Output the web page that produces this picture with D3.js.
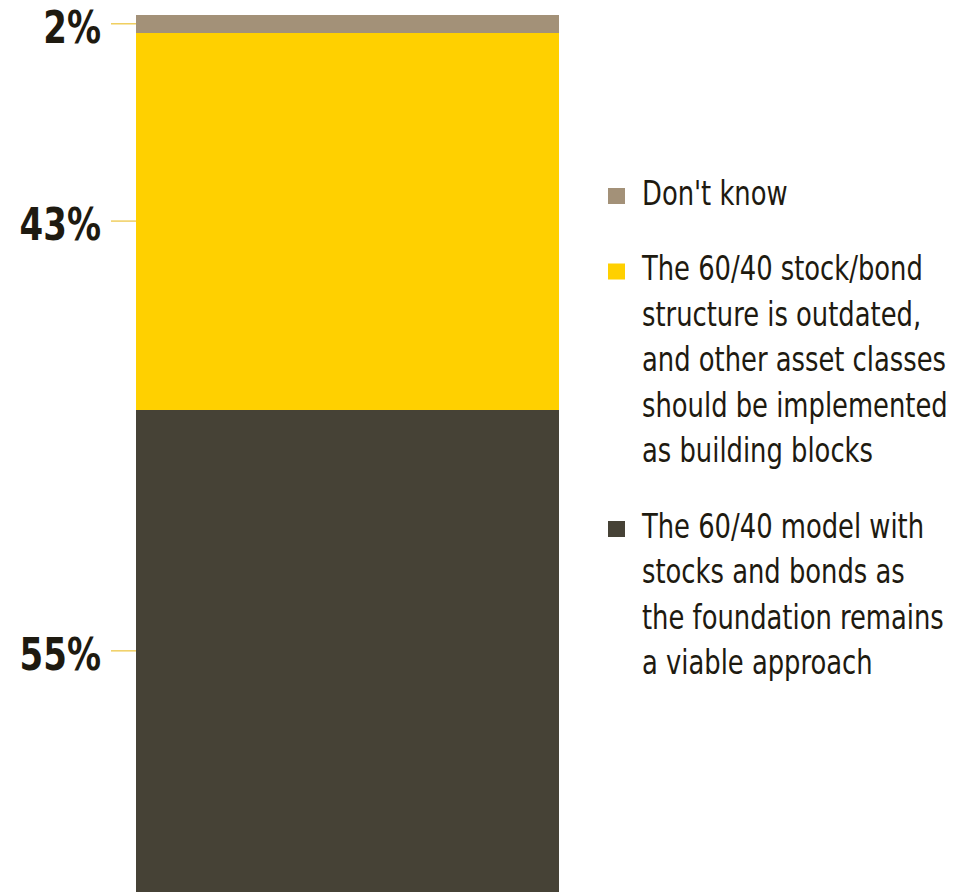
<!DOCTYPE html>
<html>
<head>
<meta charset="utf-8">
<script src="https://cdn.jsdelivr.net/npm/d3@7/dist/d3.min.js"></script>
<style>
  body { margin: 0; background: #fff; }
  .pct { font-family: "DejaVu Sans", sans-serif; font-stretch: condensed; font-weight: bold; font-size: 45px; fill: #1e1a10; }
  .legend text { font-family: "DejaVu Sans", sans-serif; font-stretch: condensed; font-size: 33px; fill: #1e1a10; }
</style>
</head>
<body>
<div id="chart"></div>
<script>
// answers, listed bottom of the bar first
var keys = ["viable", "outdated", "dontknow"];
var values = [55, 43, 2];
var labels = ["55%", "43%", "2%"];
var colors = ["#464236", "#ffd000", "#a39178"];
var legendLines = [
  ["The 60/40 model with", "stocks and bonds as", "the foundation remains", "a viable approach"],
  ["The 60/40 stock/bond", "structure is outdated,", "and other asset classes", "should be implemented", "as building blocks"],
  ["Don't know"]
];

var width = 967, height = 892;
var bar = {left: 136, right: 559, top: 15, bottom: 892};
var squeeze = 0.87;   // no narrow font installed, so squash horizontally

var svg = d3.select("#chart").append("svg")
    .attr("width", width)
    .attr("height", height);

var row = {};
keys.forEach(function(k, i) { row[k] = values[i]; });
var series = d3.stack().keys(keys)([row]);

var yScale = d3.scaleLinear().domain([0, 100]).range([bar.bottom, bar.top]);
var xScale = d3.scaleBand().domain(["all"]).range([bar.left, bar.right]).padding(0);

// stacked bar
svg.selectAll(".seg")
    .data(series)
    .enter().append("rect")
    .attr("class", "seg")
    .attr("x", xScale("all"))
    .attr("width", xScale.bandwidth())
    .attr("y", function(d) { return yScale(d[0][1]); })
    .attr("height", function(d) { return yScale(d[0][0]) - yScale(d[0][1]); })
    .attr("fill", function(d, i) { return colors[i]; })
    .attr("shape-rendering", "crispEdges");

// leader lines + percentages at segment middles
var mids = series.map(function(d) { return yScale((d[0][0] + d[0][1]) / 2); });

svg.selectAll(".leader")
    .data(mids)
    .enter().append("line")
    .attr("class", "leader")
    .attr("x1", bar.left - 25)
    .attr("x2", bar.left)
    .attr("y1", function(d) { return d; })
    .attr("y2", function(d) { return d; })
    .attr("stroke", "#f0cf60")
    .attr("stroke-width", 1.5);

svg.selectAll(".pct")
    .data(mids)
    .enter().append("text")
    .attr("class", "pct")
    .attr("transform", function(d) { return "translate(101," + (d + 19) + ") scale(0.84,1)"; })
    .attr("text-anchor", "end")
    .text(function(d, i) { return labels[i]; });

// legend, top to bottom
var lineH = 45.5, gap = 30;
var legend = svg.append("g").attr("class", "legend");
var base = 205;
[2, 1, 0].forEach(function(i) {
  var g = legend.append("g");
  g.append("rect")
    .attr("x", 608)
    .attr("y", base - 17)
    .attr("width", 17)
    .attr("height", 16)
    .attr("fill", colors[i]);
  g.append("g")
    .attr("transform", "translate(642,0) scale(" + squeeze + ",1)")
    .selectAll("text")
    .data(legendLines[i])
    .enter().append("text")
    .attr("x", 0)
    .attr("y", function(d, j) { return base + j * lineH; })
    .text(function(d) { return d; });
  base += legendLines[i].length * lineH + gap;
});
</script>
</body>
</html>
